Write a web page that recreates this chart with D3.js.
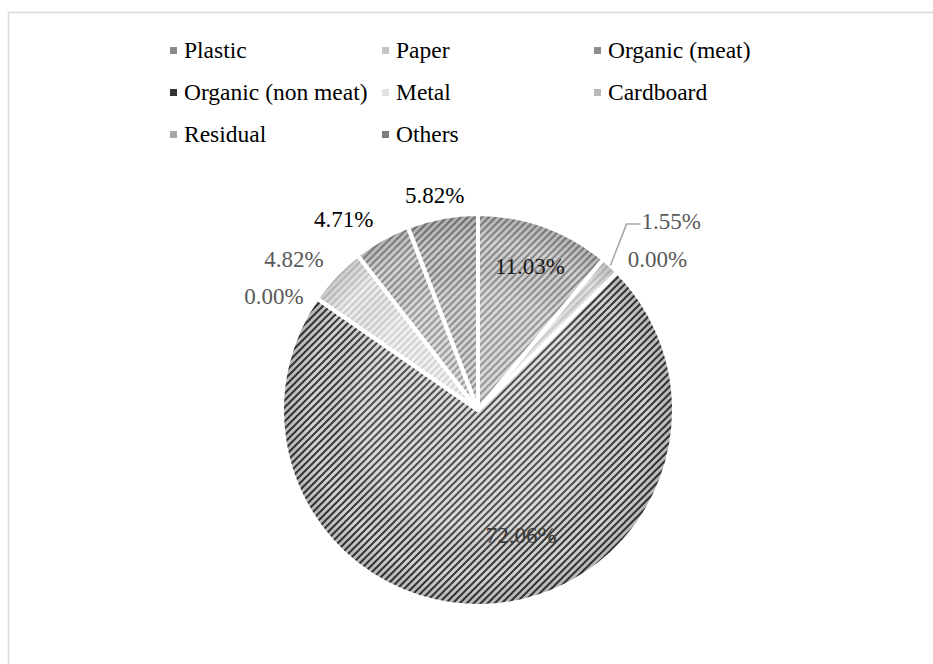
<!DOCTYPE html>
<html>
<head>
<meta charset="utf-8">
<script src="https://cdn.jsdelivr.net/npm/d3@7"></script>
<style>
  body { margin: 0; background: #fff; }
  svg { display: block; font-family: "Liberation Serif", "Times New Roman", serif; }
</style>
</head>
<body>
<div id="chart"></div>
<script>
// waste composition shares (%)
var categories = ["Plastic", "Paper", "Organic (meat)", "Organic (non meat)", "Metal", "Cardboard", "Residual", "Others"];
var shares = [11.03, 1.55, 0.00, 72.06, 4.82, 0.00, 4.71, 5.82];
var shareLabels = ["11.03%", "1.55%", "0.00%", "72.06%", "4.82%", "0.00%", "4.71%", "5.82%"];

// look of each slice: background, stripe colour, legend chip, label colour
var sliceBg = ["#d2d2d2", "#e2e2e2", "#c4c4c4", "#d4d4d4", "#eeeeee", "#dadada", "#d4d4d4", "#cccccc"];
var sliceStripe = ["#8a8a8a", "#c4c4c4", "#6a6a6a", "#3a3a3a", "#cdcdcd", "#b0b0b0", "#8e8e8e", "#808080"];
var chipColor = ["#8a8a8a", "#c4c4c4", "#8e8e8e", "#333333", "#e2e2e2", "#b8b8b8", "#a8a8a8", "#7e7e7e"];
var labelColor = ["#1a1a1a", "#595959", "#595959", "#3a3a3a", "#595959", "#595959", "#000000", "#000000"];

var width = 933, height = 664;
var cx = 478, cy = 410, radius = 196;

var svg = d3.select("#chart").append("svg")
    .attr("width", width)
    .attr("height", height);

// chart frame
svg.append("rect")
    .attr("x", 8.5).attr("y", 12.5)
    .attr("width", 940).attr("height", 700)
    .attr("fill", "none")
    .attr("stroke", "#d9d9d9")
    .attr("stroke-width", 1.5);

var defs = svg.append("defs");

// striped fills, lines rising to the right
categories.forEach(function (c, i) {
    var p = defs.append("pattern")
        .attr("id", "stripe" + i)
        .attr("patternUnits", "userSpaceOnUse")
        .attr("width", 7).attr("height", 7);
    p.append("rect").attr("width", 7).attr("height", 7).attr("fill", sliceBg[i]);
    p.append("path")
        .attr("d", "M-2,2 l4,-4 M0,7 l7,-7 M5,9 l4,-4")
        .attr("stroke", sliceStripe[i])
        .attr("stroke-width", 2);
});

// soft darker rim
var rim = defs.append("radialGradient")
    .attr("id", "rim")
    .attr("gradientUnits", "userSpaceOnUse")
    .attr("cx", 0).attr("cy", 0).attr("r", radius);
rim.append("stop").attr("offset", "0.6").attr("stop-color", "#fff").attr("stop-opacity", 0.12);
rim.append("stop").attr("offset", "0.85").attr("stop-color", "#000").attr("stop-opacity", 0);
rim.append("stop").attr("offset", "1").attr("stop-color", "#000").attr("stop-opacity", 0.16);

var data = categories.map(function (c, i) {
    return { name: c, value: shares[i], label: shareLabels[i], idx: i };
});

var pie = d3.pie().sort(null).value(d => d.value);
var arcs = pie(data);
var arc = d3.arc().innerRadius(0).outerRadius(radius);
var drawn = arcs.filter(d => d.data.value > 0);

var pieGroup = svg.append("g").attr("transform", `translate(${cx},${cy})`);

pieGroup.selectAll("path.slice")
    .data(drawn)
    .enter()
    .append("path")
    .attr("class", "slice")
    .attr("d", arc)
    .attr("fill", d => `url(#stripe${d.data.idx})`);

pieGroup.selectAll("path.shade")
    .data(drawn)
    .enter()
    .append("path")
    .attr("class", "shade")
    .attr("d", arc)
    .attr("fill", "url(#rim)");

// white separators
pieGroup.selectAll("path.sep")
    .data(drawn)
    .enter()
    .append("path")
    .attr("class", "sep")
    .attr("d", arc)
    .attr("fill", "none")
    .attr("stroke", "#fff")
    .attr("stroke-width", 4)
    .attr("stroke-linejoin", "round");

// labels: outside end, with nudges where Excel moved them
var insideLabels = { "Plastic": true, "Organic (non meat)": true };
var nudge = {
    "Paper": [36, -30],
    "Organic (meat)": [14, 1],
    "Organic (non meat)": [30, -27],
    "Metal": [-15, -2],
    "Cardboard": [-61, 57],
    "Residual": [-20, -3],
    "Others": [-1, -3]
};
var fontSize = 23;
var labelGroup = svg.append("g");

arcs.forEach(function (d) {
    var mid = (d.startAngle + d.endAngle) / 2;
    var s = Math.sin(mid), c = Math.cos(mid);
    var x, y;
    if (insideLabels[d.data.name]) {
        x = cx + radius * 0.78 * s;
        y = cy - radius * 0.78 * c;
    } else {
        var w = d.data.label.length * fontSize * 0.5;
        var h = fontSize;
        x = cx + (radius + 8) * s + (w / 2) * s;
        y = cy - (radius + 8) * c - (h / 2) * c;
    }
    var n = nudge[d.data.name] || [0, 0];
    x += n[0];
    y += n[1];
    labelGroup.append("text")
        .attr("x", x)
        .attr("y", y)
        .attr("text-anchor", "middle")
        .attr("dominant-baseline", "central")
        .attr("font-size", fontSize + "px")
        .attr("fill", labelColor[d.data.idx])
        .text(d.data.label);
    d.labelPos = [x, y];
});

// leader line for the small Paper slice
var paper = arcs[1];
var pMid = (paper.startAngle + paper.endAngle) / 2;
var p0 = [cx + radius * Math.sin(pMid), cy - radius * Math.cos(pMid)];
var lp = paper.labelPos;
var textLeft = lp[0] - shareLabels[1].length * fontSize * 0.5 / 2 - 2;
svg.append("polyline")
    .attr("points", [p0, [textLeft - 14, lp[1] + 3], [textLeft, lp[1] + 3]].map(p => p.join(",")).join(" "))
    .attr("fill", "none")
    .attr("stroke", "#a6a6a6")
    .attr("stroke-width", 1.5);

// legend: 3 columns
var legendX = [184, 396, 608], legendY = [50, 92, 134];
var legend = svg.append("g");
categories.forEach(function (c, i) {
    var col = i % 3, row = Math.floor(i / 3);
    var g = legend.append("g")
        .attr("transform", `translate(${legendX[col]},${legendY[row]})`);
    g.append("rect")
        .attr("x", -14).attr("y", -3)
        .attr("width", 7).attr("height", 7)
        .attr("fill", chipColor[i]);
    g.append("text")
        .attr("x", 0)
        .attr("y", 0)
        .attr("dominant-baseline", "central")
        .attr("font-size", "23.5px")
        .attr("fill", "#000")
        .text(c);
});
</script>
</body>
</html>
